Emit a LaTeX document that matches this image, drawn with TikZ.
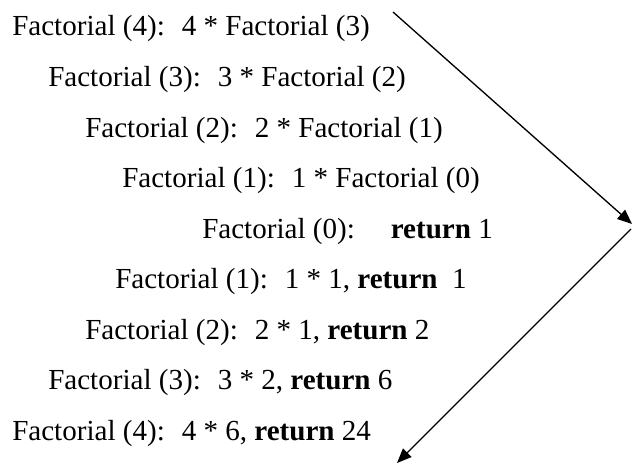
\documentclass[tikz,border=0pt]{standalone}
\usepackage{fontspec}
\setmainfont{Liberation Serif}
\usetikzlibrary{arrows.meta}
\tikzset{
  call/.style={anchor=base west,inner sep=0pt,font=\fontsize{21.8}{26}\selectfont},
  arr/.style={-{Triangle[length=11pt,width=9pt]},line width=1pt,color=black},
}
\begin{document}
\begin{tikzpicture}[x=0.75pt,y=-0.75pt]
\useasboundingbox (0,0) rectangle (632,464);
% calls going down
\node[call] (f4a) at (12,36) {Factorial (4):~ 4 * Factorial (3)};
\node[call] (f3a) at (48,86.5) {Factorial (3):~ 3 * Factorial (2)};
\node[call] (f2a) at (85,137) {Factorial (2):~ 2 * Factorial (1)};
\node[call] (f1a) at (122,187.5) {Factorial (1):~ 1 * Factorial (0)};
\node[call] (f0) at (202,238) {Factorial (0):\hspace*{27pt}\textbf{return} 1};
% returns coming back
\node[call] (f1b) at (115,288.5) {Factorial (1):~ 1 * 1, \textbf{return}~ 1};
\node[call] (f2b) at (85,339) {Factorial (2):~ 2 * 1, \textbf{return} 2};
\node[call] (f3b) at (48,389.5) {Factorial (3):~ 3 * 2, \textbf{return} 6};
\node[call] (f4b) at (12,440) {Factorial (4):~ 4 * 6, \textbf{return} 24};
\coordinate (top) at (393,12);
\coordinate (tip) at (632,224);
\coordinate (turn) at (631,229);
\coordinate (bot) at (397,463);
\draw[arr] (top) -- (tip);
\draw[arr] (turn) -- (bot);
\end{tikzpicture}
\end{document}
